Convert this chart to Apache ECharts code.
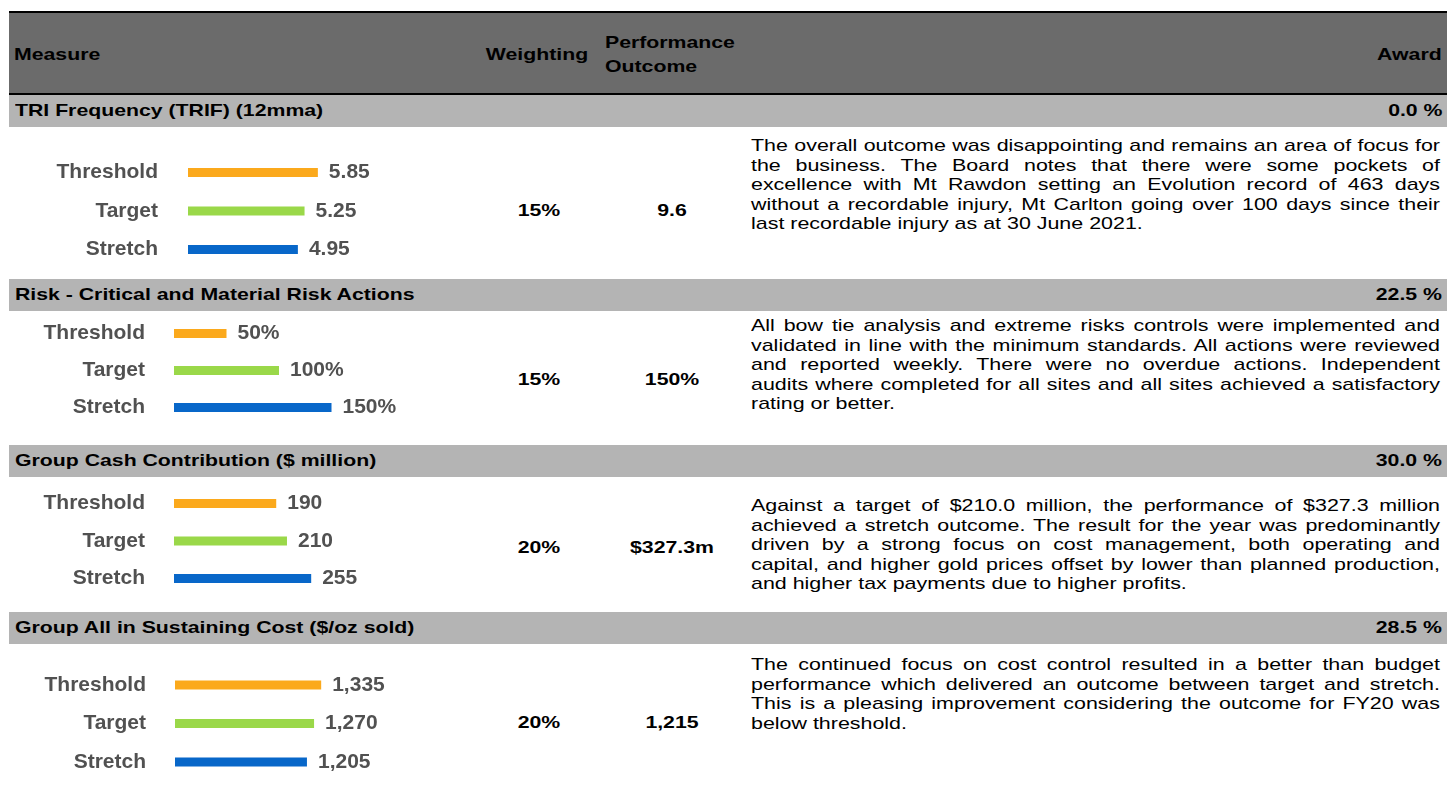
<!DOCTYPE html>
<html>
<head>
<meta charset="utf-8">
<script src="https://cdn.jsdelivr.net/npm/echarts/dist/echarts.min.js"></script>
<style>
  body { margin: 0; background: #fff; font-family: Arial, "Liberation Sans", sans-serif; }
  #page { position: relative; width: 1447px; height: 791px; overflow: hidden; }
  .blk { position: absolute; }
  .txt { position: absolute; white-space: nowrap; font-size: 17px; color: #000; }
  .b { font-weight: bold; }
  .para { position: absolute; font-size: 17px; line-height: 19.5px; text-align: justify; color: #000; transform-origin: left top; }
  #bars { position: absolute; left: 0; top: 0; width: 1447px; height: 791px; }
</style>
</head>
<body>
<div id="page"></div>

<script>
// ---- data ----
var measures = ['TRI Frequency (TRIF) (12mma)', 'Risk - Critical and Material Risk Actions',
                'Group Cash Contribution ($ million)', 'Group All in Sustaining Cost ($/oz sold)'];
var weightings = ['15%', '15%', '20%', '20%'];
var outcomes = ['9.6', '150%', '$327.3m', '1,215'];
var awards = ['0.0 %', '22.5 %', '30.0 %', '28.5 %'];
var comments = [
  'The overall outcome was disappointing and remains an area of focus for the business. The Board notes that there were some pockets of excellence with Mt Rawdon setting an Evolution record of 463 days without a recordable injury, Mt Carlton going over 100 days since their last recordable injury as at 30 June 2021.',
  'All bow tie analysis and extreme risks controls were implemented and validated in line with the minimum standards. All actions were reviewed and reported weekly. There were no overdue actions. Independent audits where completed for all sites and all sites achieved a satisfactory rating or better.',
  'Against a target of $210.0 million, the performance of $327.3 million achieved a stretch outcome. The result for the year was predominantly driven by a strong focus on cost management, both operating and capital, and higher gold prices offset by lower than planned production, and higher tax payments due to higher profits.',
  'The continued focus on cost control resulted in a better than budget performance which delivered an outcome between target and stretch. This is a pleasing improvement considering the outcome for FY20 was below threshold.'
];
var levels = ['Threshold', 'Target', 'Stretch'];
var trifValues = [5.85, 5.25, 4.95];
var riskValues = [50, 100, 150];
var cashValues = [190, 210, 255];
var aiscValues = [1335, 1270, 1205];

var levelColors = ['#FBA91C', '#9AD849', '#0867C9'];

// ---- table layout ----
var page = document.getElementById('page');
var S = 1.25;   // table text is drawn a bit wide
var P = 1.26;   // same for the comment paragraphs
var bandTops = [95, 279, 445, 612];
var valueY = [211, 380, 548, 723];
var paraTop = [136, 316, 496, 655];

function box(x, y, w, h, color) {
  var d = document.createElement('div');
  d.className = 'blk';
  d.style.cssText = 'left:' + x + 'px;top:' + y + 'px;width:' + w + 'px;height:' + h + 'px;background:' + color;
  page.appendChild(d);
}
function text(str, x, cy, align, bold) {
  var d = document.createElement('div');
  d.className = 'txt' + (bold ? ' b' : '');
  d.textContent = str;
  d.style.top = (cy - 12) + 'px';
  d.style.lineHeight = '24px';
  if (align == 'left') {
    d.style.left = x + 'px';
    d.style.transformOrigin = 'left center';
  } else if (align == 'right') {
    d.style.right = (1447 - x) + 'px';
    d.style.transformOrigin = 'right center';
  } else {
    d.style.left = (x - 200) + 'px';
    d.style.width = '400px';
    d.style.textAlign = 'center';
    d.style.transformOrigin = 'center center';
  }
  d.style.transform = 'scaleX(' + S + ')';
  page.appendChild(d);
}

box(9, 11, 1438, 2, '#000');
box(9, 13, 1438, 80, '#6b6b6b');
box(9, 93, 1438, 2, '#000');
text('Measure', 14, 55, 'left', true);
text('Weighting', 537, 55, 'center', true);
text('Performance', 605, 43, 'left', true);
text('Outcome', 605, 67, 'left', true);
text('Award', 1442, 55, 'right', true);

measures.forEach(function (m, i) {
  box(9, bandTops[i], 1438, 32, '#b4b4b4');
  text(m, 15, bandTops[i] + 16, 'left', true);
  text(awards[i], 1442, bandTops[i] + 16, 'right', true);
  text(weightings[i], 539, valueY[i], 'center', true);
  text(outcomes[i], 672, valueY[i], 'center', true);
  var p = document.createElement('div');
  p.className = 'para';
  p.textContent = comments[i];
  p.style.left = '751px';
  p.style.top = paraTop[i] + 'px';
  p.style.width = (689 / P) + 'px';
  p.style.transform = 'scaleX(' + P + ')';
  page.appendChild(p);
});

// ---- bar charts ----
var chartDiv = document.createElement('div');
chartDiv.id = 'bars';
page.appendChild(chartDiv);
var myChart = echarts.init(chartDiv);

function comma(v) {
  return String(v).replace(/\B(?=(\d{3})+(?!\d))/g, ',');
}
var grids = [
  { left: 188, top: 153.25, width: 155.4, height: 115.5, max: 7, margin: 30, values: trifValues,
    fmt: function (v) { return v.toFixed(2); } },
  { left: 174, top: 315, width: 210, height: 111, max: 200, margin: 29, values: riskValues,
    fmt: function (v) { return v + '%'; } },
  { left: 174, top: 484.75, width: 161.4, height: 112.5, max: 300, margin: 29, values: cashValues,
    fmt: function (v) { return String(v); } },
  { left: 175, top: 665.75, width: 175.2, height: 115.5, max: 1600, margin: 29, values: aiscValues,
    fmt: comma }
];

myChart.setOption({
  animation: false,
  grid: grids.map(function (g) {
    return { left: g.left, top: g.top, width: g.width, height: g.height,
             containLabel: false, outerBoundsMode: 'none' };
  }),
  xAxis: grids.map(function (g, i) {
    return { type: 'value', gridIndex: i, min: 0, max: g.max, show: false };
  }),
  yAxis: grids.map(function (g, i) {
    return {
      type: 'category', gridIndex: i, inverse: true, data: levels,
      axisLine: { show: false }, axisTick: { show: false }, splitLine: { show: false },
      axisLabel: { margin: g.margin, color: '#515151', fontSize: 21, fontWeight: 'bold',
                   fontFamily: 'Arial, Liberation Sans, sans-serif' }
    };
  }),
  series: grids.map(function (g, i) {
    return {
      type: 'bar', xAxisIndex: i, yAxisIndex: i, barWidth: 9,
      data: g.values.map(function (v, k) {
        return { value: v, itemStyle: { color: levelColors[k] } };
      }),
      label: {
        show: true, position: 'right', distance: 11, color: '#515151', fontSize: 21,
        fontWeight: 'bold', fontFamily: 'Arial, Liberation Sans, sans-serif',
        formatter: function (p) { return g.fmt(p.value); }
      }
    };
  })
});
</script>
</body>
</html>
